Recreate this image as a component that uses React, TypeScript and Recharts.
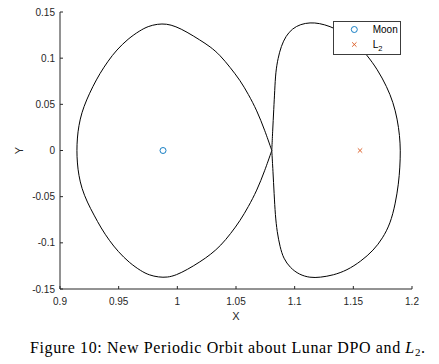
import { ScatterChart, Scatter, XAxis, YAxis, Legend } from 'recharts';

// orbit traced in order as a figure-8, starting at the crossing point (repeated so the B-spline passes through it)
const orbitX = [
  1.0805, 1.0805, 1.0805, 1.0745, 1.0677, 1.0605, 1.0534, 1.045, 1.0364, 1.028, 1.0193, 1.008,
  0.9985, 0.9908, 0.983, 0.975, 0.968, 0.958, 0.9481, 0.941, 0.934, 0.928, 0.9225, 0.9185,
  0.916, 0.9147, 0.9143, 0.9147, 0.916, 0.9185, 0.9232, 0.929, 0.935, 0.942, 0.9495, 0.959,
  0.969, 0.976, 0.984, 0.9915, 0.999, 1.0085, 1.0195, 1.0285, 1.037, 1.0455, 1.0535, 1.0605,
  1.0677, 1.0745, 1.0805, 1.0805, 1.0805, 1.0812, 1.0822, 1.083, 1.0838, 1.0858, 1.0885, 1.0925,
  1.098, 1.105, 1.1132, 1.121, 1.1302, 1.139, 1.147, 1.1545, 1.1616, 1.1705, 1.1786, 1.184,
  1.1875, 1.1895, 1.1902, 1.1897, 1.1886, 1.1858, 1.1815, 1.175, 1.1672, 1.1565, 1.1445, 1.133,
  1.1217, 1.113, 1.104, 1.0961, 1.0905, 1.0875, 1.085, 1.0835, 1.0825, 1.0815, 1.0805, 1.0805,
  1.0805,
];
const orbitY = [
  0, 0, 0, 0.022, 0.0436, 0.061, 0.0762, 0.09, 0.1033, 0.1125, 0.1196, 0.1285,
  0.1345, 0.1372, 0.137, 0.1345, 0.1298, 0.121, 0.1087, 0.097, 0.0835, 0.0695, 0.0545, 0.041,
  0.027, 0.0135, 0, -0.0135, -0.027, -0.041, -0.056, -0.07, -0.084, -0.0975, -0.1095, -0.1215,
  -0.1305, -0.135, -0.1372, -0.1375, -0.135, -0.129, -0.1205, -0.1125, -0.103, -0.09, -0.076, -0.061,
  -0.0436, -0.022, 0, 0, 0, 0.02, 0.045, 0.065, 0.085, 0.1, 0.113, 0.124,
  0.132, 0.1368, 0.1386, 0.1378, 0.1345, 0.129, 0.1225, 0.1135, 0.1033, 0.088, 0.069, 0.052,
  0.034, 0.016, 0, -0.018, -0.0358, -0.058, -0.0792, -0.095, -0.1081, -0.12, -0.1298, -0.135,
  -0.1375, -0.1378, -0.1345, -0.127, -0.117, -0.1045, -0.088, -0.07, -0.047, -0.022, 0, 0,
  0,
];
const moonPos = [{ x: 0.9878, y: 0 }];
const l2Pos = [{ x: 1.1557, y: 0 }];

const xTicks = [0.9, 0.95, 1, 1.05, 1.1, 1.15, 1.2];
const yTicks = [-0.15, -0.1, -0.05, 0, 0.05, 0.1, 0.15];

const orbit = orbitX.map((x, i) => ({ x, y: orbitY[i] }));

const AXIS = '#262626';
const BLUE = '#0072BD';
const ORANGE = '#D95319';

const fmt = (v: number) => String(Number(v.toFixed(2)));

const MoonMark = (p: any) => (
  <circle cx={p.cx} cy={p.cy} r={3} fill="none" stroke={BLUE} strokeWidth={0.9} />
);

const CrossMark = (p: any) => (
  <g stroke={ORANGE} strokeWidth={0.9}>
    <line x1={p.cx - 2.2} y1={p.cy - 2.2} x2={p.cx + 2.2} y2={p.cy + 2.2} />
    <line x1={p.cx - 2.2} y1={p.cy + 2.2} x2={p.cx + 2.2} y2={p.cy - 2.2} />
  </g>
);

function LegendBox() {
  return (
    <svg width={68} height={34} style={{ display: 'block' }}>
      <rect x={0.5} y={0.5} width={67} height={33} fill="#fff" stroke="#3c3c3c" strokeWidth={1} />
      <MoonMark cx={21.3} cy={8.5} />
      <text x={39.7} y={12.1} fontSize={10} fill="#000">Moon</text>
      <CrossMark cx={21.3} cy={23.5} />
      <text x={39.7} y={27.1} fontSize={10} fill="#000">
        L<tspan fontSize={7.5} dy={3}>2</tspan>
      </text>
    </svg>
  );
}

export default function App() {
  return (
    <div style={{ width: 431, fontFamily: '"Liberation Sans", Arial, sans-serif' }}>
      <ScatterChart width={431} height={322} margin={{ top: 4, right: 27, bottom: 0, left: 0 }}>
        <XAxis
          type="number"
          dataKey="x"
          domain={[0.9, 1.2]}
          ticks={xTicks}
          interval={0}
          tickFormatter={fmt}
          tickSize={-3}
          tickMargin={12}
          height={41}
          allowDataOverflow
          axisLine={{ stroke: AXIS }}
          tickLine={{ stroke: AXIS }}
          tick={{ fontSize: 10, fill: AXIS }}
          label={{ value: 'X', position: 'insideBottom', offset: 10, fontSize: 11, fill: AXIS }}
        />
        <YAxis
          type="number"
          dataKey="y"
          domain={[-0.15, 0.15]}
          ticks={yTicks}
          interval={0}
          tickFormatter={fmt}
          tickSize={-3}
          tickMargin={8}
          width={52}
          allowDataOverflow
          axisLine={{ stroke: AXIS }}
          tickLine={{ stroke: AXIS }}
          tick={{ fontSize: 10, fill: AXIS }}
          label={{
            value: 'Y',
            angle: -90,
            position: 'insideLeft',
            offset: 11,
            fontSize: 11,
            fill: AXIS,
            style: { textAnchor: 'middle' },
          }}
        />
        <Scatter
          data={orbit}
          fill="#000"
          line={{ stroke: '#000', strokeWidth: 1 }}
          lineJointType="basis"
          shape={() => <g />}
          legendType="none"
          isAnimationActive={false}
        />
        <Scatter name="Moon" data={moonPos} fill={BLUE} shape={MoonMark} isAnimationActive={false} />
        <Scatter name="L2" data={l2Pos} fill={ORANGE} shape={CrossMark} isAnimationActive={false} />
        <Legend
          layout="horizontal"
          verticalAlign="middle"
          align="center"
          wrapperStyle={{ left: 325, top: 12.5, width: 68, height: 34 }}
          content={() => <LegendBox />}
        />
      </ScatterChart>
      <svg width={431} height={30} style={{ display: 'block' }}>
        <text
          x={22}
          y={23}
          fontSize={16}
          fontFamily='"Liberation Serif", "Times New Roman", serif'
          fill="#000"
          textLength={395}
          lengthAdjust="spacing"
        >
          Figure 10: New Periodic Orbit about Lunar DPO and <tspan fontStyle="italic">L</tspan>
          <tspan fontSize={11} dy={3}>2</tspan>
          <tspan dy={-3}>.</tspan>
        </text>
      </svg>
    </div>
  );
}
